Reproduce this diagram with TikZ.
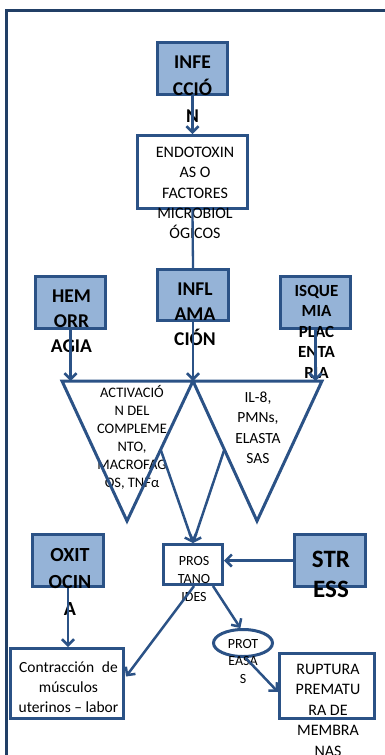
\documentclass[tikz,border=0pt]{standalone}
\usepackage{fontspec}
\setmainfont{Carlito}
\usetikzlibrary{arrows.meta,shapes.geometric,calc}
\definecolor{boxline}{HTML}{2B5286}
\definecolor{boxfill}{HTML}{95B3D7}
\definecolor{frameline}{HTML}{213F66}
\begin{document}
\begin{tikzpicture}[x=1pt,y=-1pt,
  causebox/.style={rectangle, draw=boxline, fill=boxfill, line width=3pt, inner sep=0pt},
  plainbox/.style={rectangle, draw=boxline, fill=white, line width=3pt, inner sep=0pt},
  % text blocks are placed by the baseline of their last line
  btext/.style 2 args={font=\bfseries\fontsize{#1}{#2}\selectfont, align=center, anchor=base, inner sep=0pt},
  ptext/.style 2 args={font=\fontsize{#1}{#2}\selectfont, align=center, anchor=base, inner sep=0pt},
  link/.style={draw=boxline, line width=2.5pt},
  arr/.style={link, -{Straight Barb[length=6pt,width=12pt]}},
  wedge/.style={draw=boxline, line width=3pt, line join=miter},
]
\useasboundingbox (0,0) rectangle (384,755);

% page frame
\draw[frameline, line width=3pt] (395,10) -- (6.5,10) -- (6.5,770);

% boxes
\node[causebox, minimum width=70, minimum height=52] (inf) at (192.5,68.5) {};
\node[plainbox, minimum width=110, minimum height=73] (endo) at (192.5,172) {};
\node[causebox, minimum width=71, minimum height=51] (infl) at (193,295) {};
\node[causebox, minimum width=70, minimum height=52] (hem) at (70.5,302.5) {};
\node[causebox, minimum width=70, minimum height=52] (isq) at (315.5,302.5) {};
\node[plainbox, minimum width=59, minimum height=40] (pros) at (193,564.5) {};
\node[causebox, minimum width=71, minimum height=52] (str) at (330,560.5) {};
\node[causebox, minimum width=71, minimum height=52] (oxi) at (68,560.5) {};
\node[plainbox, minimum width=113, minimum height=70] (contr) at (67,683.5) {};
\node[ellipse, draw=boxline, fill=white, line width=3pt, inner sep=0pt,
      minimum width=59, minimum height=27] (prot) at (243,643) {};
\node[plainbox, minimum width=95, minimum height=65] (rup) at (327,686) {};

% texts
\node[btext={19.5}{27}] (infT) at (192.5,122) {INFE\\CCIÓ\\N};
\node[ptext={16}{20.3}] (endoT) at (195,238.7) {ENDOTOXIN\\AS O\\FACTORES\\MICROBIOL\\ÓGICOS};
\node[btext={19.5}{25}] (inflT) at (195,345) {INFL\\AMA\\CIÓN};
\node[btext={19.5}{25}] (hemT) at (71.5,352) {HEM\\ORR\\AGIA};
\node[btext={17}{20.5}] (isqT) at (316.5,378) {ISQUE\\MIA\\PLAC\\ENTA\\RIA};
\node[ptext={14.5}{18}] (compT) at (132,487) {ACTIVACIÓ\\N DEL\\COMPLEME\\NTO,\\MACROFAG\\OS, TNFα};
\node[ptext={15.5}{20.5}] (ilT) at (258,463.5) {IL-8,\\PMNs,\\ELASTA\\SAS};
\node[btext={20}{27}] (oxiT) at (70,615) {OXIT\\OCIN\\A};
\node[btext={25}{30}] (strT) at (331,597) {STR\\ESS};
\node[ptext={14}{18}] (prosT) at (194,601.5) {PROS\\TANO\\IDES};
\node[ptext={14}{17.5}] (protT) at (243,683) {PROT\\EASA\\S};
\node[ptext={15.5}{20}] (contrT) at (68.5,712) {Contracción\hspace{0.5em}de\\músculos\\uterinos – labor};
\node[ptext={16}{20.5}] (rupT) at (328,756) {RUPTURA\\PREMATU\\RA DE\\MEMBRA\\NAS};

% the two inverted triangles
\coordinate (tl) at (62,381);
\coordinate (tm) at (193,381);
\coordinate (tr) at (322,381);
\coordinate (al) at (127,521);
\coordinate (ar) at (257,521);
\draw[wedge] (tl) -- (tm) -- (al) -- cycle;
\draw[wedge] (tm) -- (tr) -- (ar) -- cycle;
\coordinate (lp) at ($(tm)!0.49!(al)$);
\coordinate (rp) at ($(tm)!0.49!(ar)$);

% connectors
\draw[arr] (inf.south) -- (endo.north);
\draw[link, line width=2.3pt] (endo.south) -- (infl.north);
\draw[arr] (infl.south) -- (tm);
\draw[arr] (hem.south) -- (hem.south |- tm);
\draw[arr] (isq.south) -- (isq.south |- tm);
\draw[arr] (lp) -- (pros.north);
\draw[arr] (rp) -- (pros.north);
\draw[arr] (str.west) -- (str.west -| pros.east);
\draw[arr] (oxi.south) -- (oxi.south |- contr.north);
\draw[arr] ($(pros.south)+(1,0)$) -- ($(contr.east)+(1,-7)$);
\draw[arr] ($(pros.south)+(20,0)$) -- (prot.100);
\draw[arr] (prot.-80) -- ($(rup.west)+(0,6)$);
\end{tikzpicture}
\end{document}
